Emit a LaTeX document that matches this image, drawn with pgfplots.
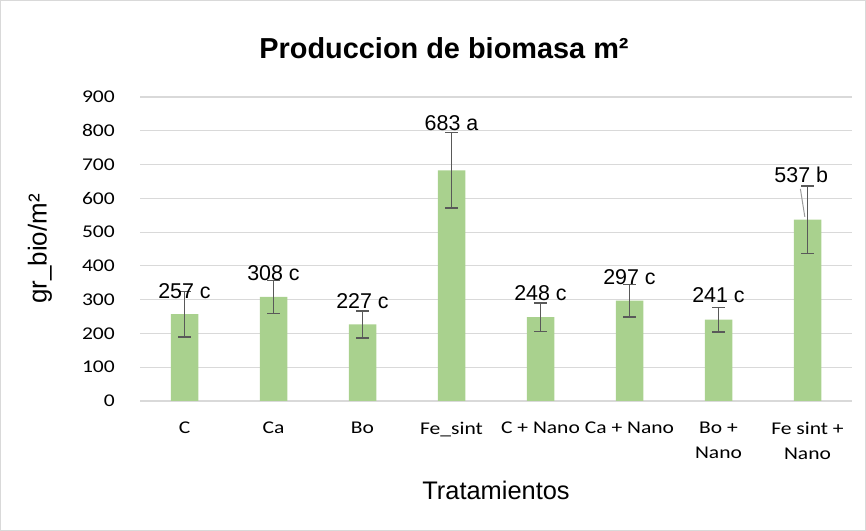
\documentclass[border=0pt]{standalone}
\usepackage{fontspec}
\setmainfont{Liberation Sans}
\newfontfamily\carlito{Carlito}[FakeStretch=1.2]
\usepackage{pgfplots}
\pgfplotsset{compat=1.18}
\usepackage{pgfplotstable}
\definecolor{bargreen}{HTML}{A9D18E}
\definecolor{errgray}{HTML}{595959}
\definecolor{gridgray}{HTML}{D9D9D9}
\pgfplotstableread{
x y err
0 257 67
1 308 49
2 227 40
3 683 112
4 248 42
5 297 48
6 241 36
7 537 100
}\biomasa
\pgfplotstableread{
x y lab
0 326 {257 c}
1 380 {308 c}
2 296 {227 c}
3 823 {683 a}
4 320 {248 c}
5 367 {297 c}
6 312 {241 c}
6.93 669 {537 b}
}\etiquetas
\begin{document}
\begin{tikzpicture}[x=1bp,y=1bp]
\useasboundingbox (0,0) rectangle (866,531);
\draw[gridgray] (0.5,0.5) rectangle (865.5,530.5);
\node[font=\bfseries\fontsize{29}{33}\selectfont, inner sep=0pt] at (444,483) {Produccion de biomasa m²};
\begin{axis}[
  at={(140bp,130bp)}, anchor=south west,
  scale only axis, width=712bp, height=304bp,
  xmin=-0.5, xmax=7.5, ymin=0, ymax=900,
  xtick={0,...,7},
  xticklabels={C, Ca, Bo, Fe\_sint, C + Nano, Ca + Nano, {Bo +\\Nano}, {Fe sint +\\Nano}},
  ytick={0,100,...,900},
  axis line style={draw=none},
  major tick length=0pt,
  ymajorgrids, grid style={gridgray, line width=1.2pt},
  /pgf/number format/assume math mode=true,
  tick label style={font=\carlito\fontsize{18}{25}\selectfont, text=black, inner sep=0pt},
  xticklabel style={align=center, anchor=north, yshift=-21bp},
  yticklabel style={anchor=east, xshift=-25bp},
  xlabel={Tratamientos},
  xlabel style={font=\fontsize{25.5}{30}\selectfont, at={(0.5,0)}, anchor=center, yshift=-89bp},
  ylabel={gr\_bio/m²},
  ylabel style={font=\fontsize{26}{30}\selectfont, at={(0,0.5)}, anchor=center, yshift=100bp},
  clip=false,
]
\addplot[ybar, bar width=27.5bp, bar shift=0pt, fill=bargreen, draw=none,
  error bars/.cd, y dir=both, y explicit,
  error bar style={errgray, line width=1.6pt},
  error mark options={errgray, line width=1.6pt, rotate=90, mark size=6.3bp}]
  table[x=x, y=y, y error=err] {\biomasa};
\addplot[errgray!60, line width=1pt, mark=none] coordinates {(6.92,628) (6.97,545)};
\addplot[only marks, mark=none, nodes near coords, point meta=explicit symbolic,
  nodes near coords style={anchor=center, inner sep=0pt, font=\fontsize{21.5}{25}\selectfont, text=black}]
  table[x=x, y=y, meta=lab] {\etiquetas};
\end{axis}
\end{tikzpicture}
\end{document}
